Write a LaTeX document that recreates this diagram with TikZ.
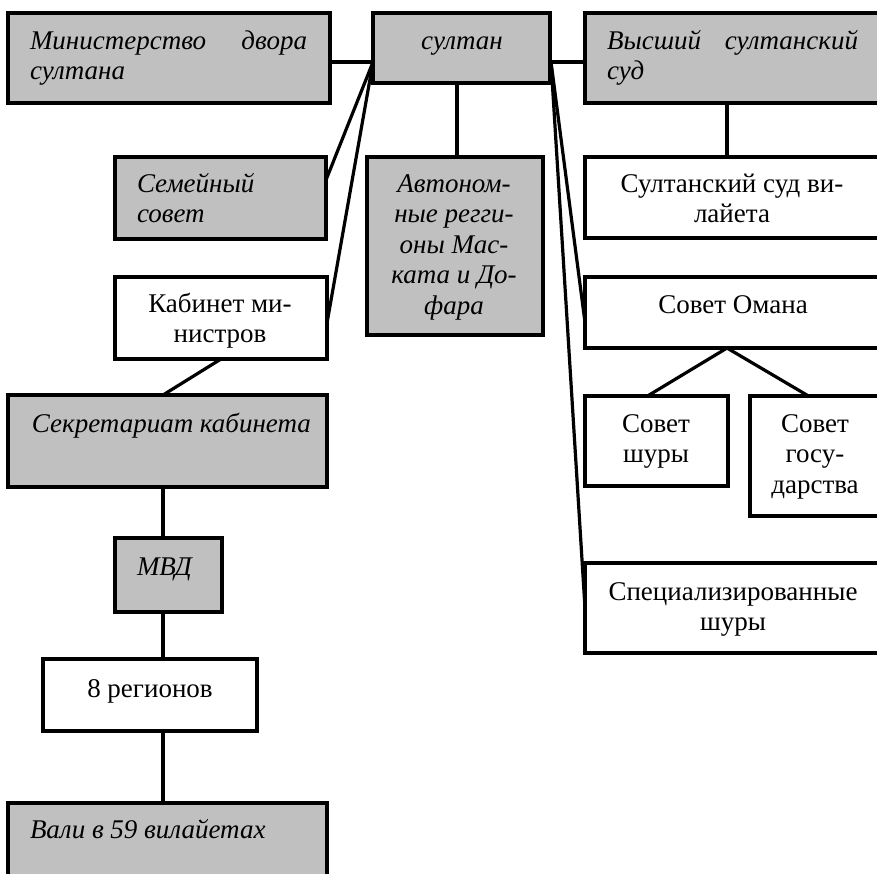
\documentclass[tikz,border=0pt]{standalone}
\usepackage{fontspec}
\setmainfont{Liberation Serif}
\usetikzlibrary{fit,calc}
\definecolor{boxgrey}{RGB}{192,192,192}
\newcommand{\tblock}[2]{\parbox[t]{#1}{\fontsize{13.5}{15.25}\selectfont #2}}
\newcommand{\cblock}[2]{\parbox[t]{#1}{\centering\fontsize{13.5}{15.25}\selectfont #2}}
\begin{document}
\begin{tikzpicture}[x=0.5pt,y=-0.5pt,
  orgbox/.style={draw,line width=1.6pt,inner sep=0pt,outer sep=0pt,rectangle},
  gbox/.style={orgbox,fill=boxgrey},
  wbox/.style={orgbox,fill=white},
  txt/.style={inner sep=0pt,outer sep=0pt},
  conn/.style={line width=1.6pt}]
\useasboundingbox (0,0) rectangle (877,873);
\clip (0,0) rectangle (877,873);
% boxes
\node[gbox,fit={(8,13)(330,103)}] (min) {};
\node[gbox,fit={(373,13)(550,83)}] (sul) {};
\node[gbox,fit={(585,13)(881,103)}] (vys) {};
\node[gbox,fit={(115,157)(326,239)}] (sem) {};
\node[gbox,fit={(367,157)(543,335)}] (avt) {};
\node[wbox,fit={(585,157)(881,238)}] (sud) {};
\node[wbox,fit={(115,277)(327,359)}] (kab) {};
\node[wbox,fit={(585,277)(881,348)}] (oman) {};
\node[gbox,fit={(8,395)(327,487)}] (sek) {};
\node[wbox,fit={(585,396)(728,486)}] (shura) {};
\node[wbox,fit={(750,396)(881,516)}] (gos) {};
\node[gbox,fit={(115,538)(222,612)}] (mvd) {};
\node[wbox,fit={(585,563)(881,653)}] (spec) {};
\node[wbox,fit={(43,659)(257,731)}] (reg) {};
\node[gbox,fit={(8,803)(327,890)}] (vali) {};
% helper coordinates
\coordinate (sl) at (373,62);
\coordinate (sr) at (551,62);
\coordinate (lx) at (163,0);
\coordinate (rx) at (727,0);
% connectors
\draw[conn] (min.east |- sl) -- (sl);
\draw[conn] (sr) -- (vys.west |- sr);
\draw[conn] (sul.south -| 457,0) -- (avt.north -| 457,0);
\draw[conn] (vys.south -| rx) -- (sud.north -| rx);
\draw[conn] (sl) -- ($(sem.east)+(0,-18)$);
\draw[conn] (sl) -- ($(kab.east)+(0,5)$);
\draw[conn] (sr) -- ($(oman.west)+(0,10)$);
\draw[conn] (sr) -- (spec.west);
\draw[conn] (oman.south -| rx) -- ($(shura.north)+(-9,0)$);
\draw[conn] (oman.south -| rx) -- ($(gos.north)+(-7,0)$);
\draw[conn] (kab.south) -- (sek.north -| lx);
\draw[conn] (sek.south -| lx) -- (mvd.north -| lx);
\draw[conn] (mvd.south -| lx) -- (reg.north -| lx);
\draw[conn] (reg.south -| lx) -- (vali.north -| lx);
% texts
\node[txt,anchor=base west] (tmin) at (30,49) {\tblock{138.5pt}{\itshape Министерство\hfill двора\\султана}};
\node[txt,anchor=base] (tsul) at (462,49) {\cblock{80pt}{\itshape султан}};
\node[txt,anchor=base west] (tvys) at (607,49) {\tblock{125.5pt}{\itshape Высший\hfill султанский\\суд}};
\node[txt,anchor=base west] (tsem) at (137,192) {\tblock{90pt}{\itshape Семейный\\совет}};
\node[txt,anchor=base] (tavt) at (454,192) {\cblock{80pt}{\itshape Автоном-\\ные регги-\\оны Мас-\\ката и До-\\фара}};
\node[txt,anchor=base] (tsud) at (732,192) {\cblock{140pt}{Султанский суд ви-\\лайета}};
\node[txt,anchor=base] (tkab) at (220,312) {\cblock{100pt}{Кабинет ми-\\нистров}};
\node[txt,anchor=base] (toman) at (733,313) {\cblock{140pt}{Совет Омана}};
\node[txt,anchor=base west] (tsek) at (32,432) {\tblock{150pt}{\itshape Секретариат кабинета}};
\node[txt,anchor=base] (tshura) at (656,432) {\cblock{65pt}{Совет\\шуры}};
\node[txt,anchor=base] (tgos) at (815,432) {\cblock{60pt}{Совет\\госу-\\дарства}};
\node[txt,anchor=base west] (tmvd) at (137,575) {\tblock{50pt}{\itshape МВД}};
\node[txt,anchor=base] (tspec) at (733,600) {\cblock{140pt}{Специализированные\\шуры}};
\node[txt,anchor=base] (treg) at (150,697) {\cblock{100pt}{8 регионов}};
\node[txt,anchor=base west] (tvali) at (30,838) {\tblock{150pt}{\itshape Вали в 59 вилайетах}};
\end{tikzpicture}
\end{document}
